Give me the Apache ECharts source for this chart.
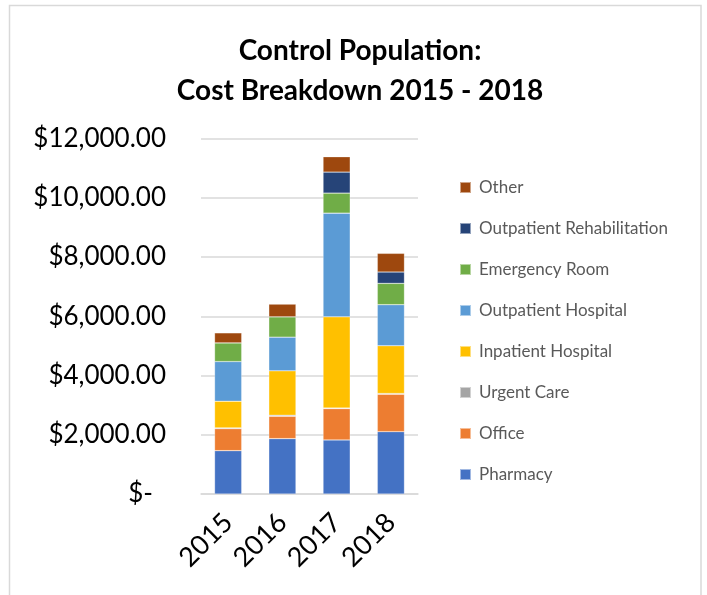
<!DOCTYPE html>
<html>
<head>
<meta charset="utf-8">
<script src="https://cdn.jsdelivr.net/npm/echarts@6/dist/echarts.min.js"></script>
<style>
html,body{margin:0;padding:0;background:#fff;}
#chart{width:707px;height:595px;}
</style>
</head>
<body>
<div id="chart"></div>
<script>
const years = ['2015', '2016', '2017', '2018'];
const pharmacy = [1463, 1869, 1824, 2105];
const office = [743, 755, 1058, 1262];
const urgentCare = [25, 35, 20, 25];
const inpatientHospital = [900, 1498, 3077, 1613];
const outpatientHospital = [1339, 1137, 3502, 1385];
const emergencyRoom = [631, 687, 676, 720];
const outpatientRehab = [0, 0, 709, 383];
const other = [338, 428, 518, 630];
const yTicks = [0, 2000, 4000, 6000, 8000, 10000, 12000];

const seriesDefs = [
  ['Pharmacy', pharmacy, '#4472C4'],
  ['Office', office, '#ED7D31'],
  ['Urgent Care', urgentCare, '#A5A5A5'],
  ['Inpatient Hospital', inpatientHospital, '#FFC000'],
  ['Outpatient Hospital', outpatientHospital, '#5B9BD5'],
  ['Emergency Room', emergencyRoom, '#70AD47'],
  ['Outpatient Rehabilitation', outpatientRehab, '#264478'],
  ['Other', other, '#9E480E']
];

const FONT = 'Lato, "Liberation Sans", sans-serif';
const chart = echarts.init(document.getElementById('chart'), null, {renderer: 'canvas'});

function fmt(v) {
  if (v === 0) return '{z|$-}';
  return '$' + v.toLocaleString('en-US', {minimumFractionDigits: 2, maximumFractionDigits: 2});
}

chart.setOption({
  animation: false,
  backgroundColor: '#fff',
  graphic: [{
    type: 'rect',
    shape: {x: 9.5, y: 5.5, width: 691.5, height: 600},
    style: {fill: 'none', stroke: '#d9d9d9', lineWidth: 1.5},
    silent: true
  }],
  title: {
    text: 'Control Population:\nCost Breakdown 2015 - 2018',
    left: 355,
    textAlign: 'center',
    top: 26,
    textStyle: {fontFamily: FONT, fontWeight: 'bold', fontSize: 28, color: '#000', lineHeight: 40}
  },
  legend: {
    orient: 'vertical',
    left: 454,
    top: 174,
    itemWidth: 11,
    itemHeight: 11,
    itemGap: 24,
    icon: 'rect',
    data: seriesDefs.map(d => d[0]).reverse(),
    textStyle: {fontFamily: FONT, fontSize: 17, color: '#595959', padding: [0, 0, 0, 3]}
  },
  grid: {left: 201, right: 289, top: 138.5, bottom: 101, containLabel: false},
  xAxis: {
    type: 'category',
    data: years,
    axisLine: {show: true, lineStyle: {color: '#d9d9d9', width: 1.5}},
    axisTick: {show: false},
    axisLabel: {rotate: 45, margin: 24, fontFamily: FONT, fontSize: 27, color: '#000'}
  },
  yAxis: {
    type: 'value',
    min: yTicks[0],
    max: yTicks[yTicks.length - 1],
    interval: 2000,
    axisLine: {show: false},
    axisTick: {show: false},
    splitLine: {lineStyle: {color: '#d9d9d9', width: 1.5}},
    axisLabel: {
      margin: 35,
      fontFamily: FONT, fontSize: 26, color: '#000',
      formatter: fmt,
      rich: {z: {fontFamily: FONT, fontSize: 26, color: '#000', padding: [0, 13, 0, 0]}}
    }
  },
  series: seriesDefs.map(d => ({
    name: d[0],
    type: 'bar',
    stack: 'total',
    barWidth: '50%',
    data: d[1],
    itemStyle: {color: d[2], borderColor: 'rgba(255,255,255,0.5)', borderWidth: 0.5}
  }))
});
</script>
</body>
</html>
